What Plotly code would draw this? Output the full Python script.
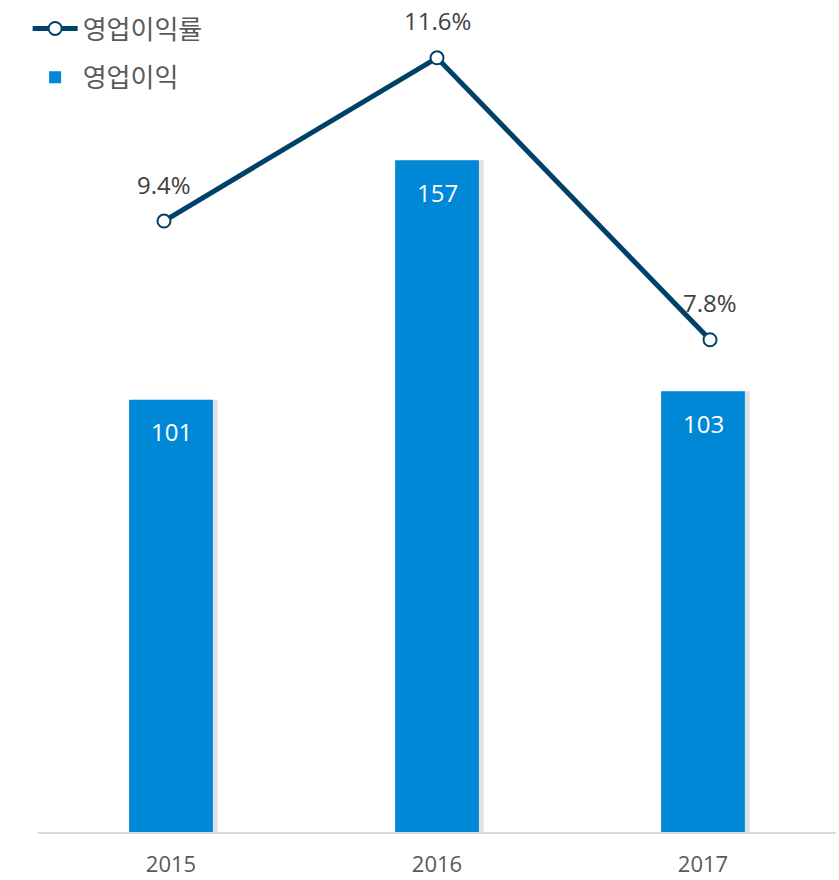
import plotly.graph_objects as go

years = ["2015", "2016", "2017"]
op_profit = [101, 157, 103]
op_margin = [9.4, 11.6, 7.8]
profit_labels = ["101", "157", "103"]
margin_labels = ["9.4%", "11.6%", "7.8%"]

BAR = "#0088D6"
LINE = "#00416A"
TXT = "#595959"
FONT = "Open Sans, Noto Sans CJK KR, sans-serif"
W = 0.315

fig = go.Figure()

# subtle shadow of the bars
fig.add_trace(go.Bar(
    x=years, y=op_profit, width=W, offset=-W / 2 + 0.018,
    marker=dict(color="rgba(0,0,0,0.12)", line=dict(width=0)),
    showlegend=False, hoverinfo="skip",
))
fig.add_trace(go.Bar(
    x=years, y=op_profit, width=W, offset=-W / 2,
    marker=dict(color=BAR, line=dict(width=0)),
    name="영업이익", legendgroup="b", legendrank=2,
))
fig.add_trace(go.Scatter(
    x=years, y=op_margin, xaxis="x2", yaxis="y2", mode="lines+markers",
    line=dict(color=LINE, width=5),
    marker=dict(size=13, color="white", line=dict(color=LINE, width=2)),
    name="영업이익률", legendgroup="a", legendrank=1,
))

# annotations on a category axis use the category index
for i, (y, t) in enumerate(zip(op_profit, profit_labels)):
    fig.add_annotation(x=i, y=y, xref="x", yref="y", text=t, showarrow=False,
                       yshift=-32, font=dict(family=FONT, size=24, color="white"))
for i, (y, t) in enumerate(zip(op_margin, margin_labels)):
    fig.add_annotation(x=i, y=y, xref="x2", yref="y2", text=t, showarrow=False,
                       yshift=37, font=dict(family=FONT, size=24, color="#404040"))

fig.update_layout(
    width=839, height=880,
    margin=dict(l=38, r=3, t=10, b=48),
    paper_bgcolor="white", plot_bgcolor="white",
    barmode="overlay",
    showlegend=True,
    legend=dict(x=-0.013, y=1.006, xanchor="left", yanchor="top",
                traceorder="grouped", tracegroupgap=12, itemwidth=45,
                font=dict(family=FONT, size=26, color=TXT),
                bgcolor="rgba(0,0,0,0)"),
    xaxis=dict(type="category", range=[-0.5, 2.5], showgrid=False, showline=True,
               linecolor="#D9D9D9", linewidth=2, ticks="", ticklabelstandoff=12,
               automargin=False,
               tickfont=dict(family=FONT, size=22, color=TXT)),
    xaxis2=dict(type="category", range=[-0.4615, 2.4615], overlaying="x",
                visible=False, showgrid=False),
    yaxis=dict(range=[0, 192.1], visible=False, showgrid=False, zeroline=False),
    yaxis2=dict(range=[1.166, 12.244], overlaying="y", visible=False,
                showgrid=False, zeroline=False),
)

fig.write_html("out.html")
